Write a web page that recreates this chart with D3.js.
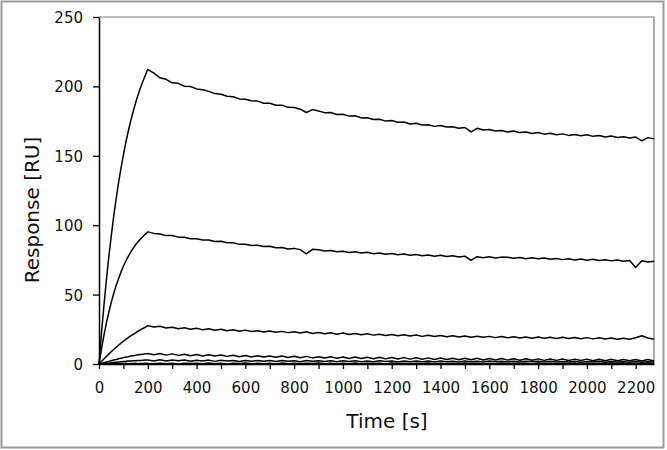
<!DOCTYPE html>
<html>
<head>
<meta charset="UTF-8">
<title>Response vs Time</title>
<script src="https://d3js.org/d3.v7.min.js"></script>
<style>
  body { margin: 0; background: #fff; }
  svg { display: block; font-family: "DejaVu Sans", sans-serif; }
</style>
</head>
<body>
<svg id="chart" width="667" height="450"></svg>
<script>
// time points [s]: association every 10 s, dissociation every 25 s
var time = [0,10,20,30,40,50,60,70,80,90,100,110,120,130,140,150,160,170,180,190,
  200,225,250,275,300,325,350,375,400,425,450,475,500,525,550,575,600,625,650,675,
  700,725,750,775,800,825,850,875,900,925,950,975,1000,1025,1050,1075,1100,1125,1150,1175,
  1200,1225,1250,1275,1300,1325,1350,1375,1400,1425,1450,1475,1500,1525,1550,1575,1600,1625,1650,1675,
  1700,1725,1750,1775,1800,1825,1850,1875,1900,1925,1950,1975,2000,2025,2050,2075,2100,2125,2150,2175,
  2200,2225,2250,2275];

// response [RU] for each concentration
var resp1 = [0,21.9,41.8,60.1,76.8,92.0,106.0,118.7,130.4,141.0,150.7,159.6,167.7,175.2,181.9,188.2,193.8,199.0,203.7,208.1,
  212.3,209.6,206.2,205.1,202.6,202.2,200.1,199.9,198.2,197.6,196.4,194.8,194.3,192.9,192.6,191.0,190.8,189.6,189.4,187.9,
  187.8,186.4,186.5,184.9,184.8,183.6,181.2,183.3,182.3,181.1,181.2,179.8,179.9,178.6,178.8,177.3,177.4,176.1,176.3,175.0,
  175.4,174.2,174.3,172.9,173.4,172.2,172.4,171.2,171.8,170.7,171.0,169.8,170.4,167.2,169.8,168.6,168.9,167.8,168.3,167.2,
  167.8,166.7,167.2,166.1,166.8,165.6,166.2,165.1,165.8,164.7,165.3,164.4,165.1,164.0,164.6,163.6,164.3,163.2,163.8,162.9,
  163.5,160.8,163.1,162.2];
var resp2 = [0,10.8,20.5,29.3,37.1,44.2,50.6,56.4,61.5,66.2,70.4,74.2,77.6,80.6,83.4,85.9,88.1,90.1,91.9,93.6,
  95.2,94.1,93.6,92.5,92.6,91.4,91.3,90.2,90.3,89.4,89.3,88.2,88.4,87.3,87.4,86.2,86.3,85.4,85.6,84.6,
  84.8,83.7,84.0,82.9,83.3,82.4,79.4,82.6,82.3,81.4,81.8,80.8,81.3,80.4,80.9,80.0,80.5,79.5,80.0,79.1,
  79.6,78.7,79.2,78.4,78.9,78.0,78.6,77.7,78.3,77.4,78.0,77.1,77.7,74.6,77.3,76.5,77.2,76.3,77.0,76.9,
  76.2,76.8,75.9,76.5,75.8,76.3,75.4,76.0,75.2,75.8,74.9,75.6,74.8,75.4,74.5,75.1,74.3,74.9,74.0,74.6,
  69.5,74.4,73.5,74.0];
var resp3 = [0,1.8,3.6,5.4,7.1,8.8,10.4,12.0,13.5,15.0,16.4,17.7,19.0,20.2,21.4,22.5,23.6,24.6,25.6,26.5,
  27.6,26.6,27.2,25.9,26.5,25.4,26.1,25.0,25.8,24.6,25.4,24.3,25.1,24.0,24.7,23.6,24.4,23.4,24.0,23.1,
  23.8,22.8,23.5,22.6,23.3,22.3,23.2,22.0,22.7,21.8,22.5,21.5,22.3,21.3,22.0,21.1,21.8,20.8,21.5,20.6,
  21.3,20.4,21.0,20.2,20.9,19.9,20.7,19.8,20.5,19.6,20.4,19.5,20.2,19.3,20.0,19.2,19.9,19.0,19.8,18.9,
  19.6,18.8,19.5,18.6,19.4,18.5,19.3,18.4,19.2,18.3,19.1,18.2,19.0,18.1,18.9,18.0,18.7,17.9,18.6,17.8,
  18.9,20.3,18.7,17.9];
var resp4 = [0,0.4,0.9,1.4,1.9,2.4,2.9,3.3,3.8,4.2,4.6,5.0,5.3,5.7,6.0,6.3,6.6,6.9,7.1,7.3,
  7.6,6.7,7.5,6.4,7.3,6.2,7.0,6.0,6.8,5.8,6.6,5.7,6.5,5.5,6.3,5.3,6.1,5.1,6.0,5.0,
  5.8,4.8,5.7,4.7,5.6,4.5,5.5,4.4,5.3,4.3,5.2,4.2,5.1,4.0,5.0,3.9,4.9,3.8,4.8,3.7,
  4.7,3.6,4.6,3.5,4.5,3.4,4.4,3.3,4.3,3.2,4.2,3.1,4.2,3.0,4.1,2.9,4.0,2.9,3.9,2.8,
  3.8,2.7,3.8,2.7,3.7,2.6,3.6,2.6,3.6,2.5,3.5,2.5,3.5,2.4,3.4,2.4,3.4,2.3,3.3,2.3,
  3.3,2.2,3.2,2.2];
var resp5 = [0,0.1,0.2,0.4,0.6,0.8,1.0,1.2,1.4,1.6,1.8,1.9,2.1,2.2,2.3,2.4,2.5,2.6,2.7,2.8,
  2.9,2.2,3.0,2.1,2.8,2.3,2.9,2.0,2.7,2.2,2.8,1.9,2.7,2.1,2.6,1.8,2.6,2.0,2.5,1.9,
  2.6,1.8,2.5,2.0,2.4,1.7,2.5,1.9,2.4,1.8,2.3,1.6,2.4,1.8,2.3,1.7,2.2,1.6,2.3,1.8,
  2.2,1.5,2.2,1.7,2.1,1.6,2.2,1.5,2.1,1.7,2.0,1.5,2.1,1.6,2.0,1.4,2.1,1.6,1.9,1.5,
  2.0,1.4,1.9,1.6,2.0,1.4,1.9,1.5,1.8,1.4,1.9,1.3,1.8,1.5,1.9,1.3,1.8,1.4,1.7,1.3,
  1.8,1.2,1.7,1.4];
var resp6 = [0,0.2,0.1,0.3,0.2,0.4,0.2,0.3,0.1,0.4,0.3,0.5,0.2,0.4,0.3,0.5,0.2,0.4,0.3,0.5,
  0.4,0.1,0.6,0.2,0.5,0.0,0.6,0.3,0.5,0.1,0.7,0.2,0.5,0.0,0.6,0.3,0.7,0.1,0.5,0.2,
  0.6,0.0,0.7,0.2,0.5,0.1,0.6,0.3,0.7,0.1,0.5,0.0,0.6,0.2,0.7,0.1,0.5,0.3,0.6,0.0,
  0.7,0.2,0.5,0.1,0.6,0.3,0.7,0.0,0.5,0.2,0.6,0.1,0.7,0.3,0.5,0.0,0.6,0.2,0.7,0.1,
  0.5,0.3,0.6,0.0,0.7,0.2,0.5,0.1,0.6,0.3,0.7,0.0,0.5,0.2,0.6,0.1,0.7,0.3,0.5,0.0,
  0.6,0.2,0.5,0.1];
var seriesList = [resp1, resp2, resp3, resp4, resp5, resp6];

var xTicks = d3.range(0, 2201, 100);
var yTicks = [0, 50, 100, 150, 200, 250];
var xTitle = "Time [s]";
var yTitle = "Response [RU]";

var svg = d3.select("#chart");
var margin = {top: 17, right: 13, bottom: 86, left: 99};
var W = +svg.attr("width"), H = +svg.attr("height");

var x = d3.scaleLinear().domain([0, 2275]).range([margin.left, W - margin.right]);
var y = d3.scaleLinear().domain([0, 250]).range([H - margin.bottom, margin.top]);

// outer frame
svg.append("rect")
  .attr("x", 1.5).attr("y", 1.5)
  .attr("width", W - 5).attr("height", H - 4)
  .attr("fill", "none").attr("stroke", "#9a9a9a").attr("stroke-width", 2);

// plot frame top/right
svg.append("path")
  .attr("d", "M" + x(0) + "," + y(250) + "H" + x(2275) + "V" + y(0))
  .attr("fill", "none").attr("stroke", "#777").attr("stroke-width", 1.2);

var line = d3.line()
  .x(function(d, i){ return x(time[i]); })
  .y(function(d){ return y(d); });

svg.append("g")
  .selectAll("path")
  .data(seriesList)
  .enter().append("path")
    .attr("d", line)
    .attr("fill", "none")
    .attr("stroke", "#000")
    .attr("stroke-width", 1.5)
    .attr("stroke-linejoin", "round");

var xAxis = svg.append("g")
  .attr("transform", "translate(0," + y(0) + ")")
  .call(d3.axisBottom(x).tickValues(xTicks).tickSize(5).tickSizeOuter(0)
    .tickFormat(function(d){ return d % 200 === 0 ? d : ""; }));

var yAxis = svg.append("g")
  .attr("transform", "translate(" + x(0) + ",0)")
  .call(d3.axisLeft(y).tickValues(yTicks).tickSize(6).tickSizeOuter(0));

[xAxis, yAxis].forEach(function(a){
  a.select(".domain").attr("stroke", "#000").attr("stroke-width", 1.5);
  a.selectAll(".tick line").attr("stroke", "#000").attr("stroke-width", 1.3);
  a.selectAll(".tick text").attr("fill", "#111").style("font-size", "15px")
    .style("font-family", "'DejaVu Sans', sans-serif");
});
xAxis.selectAll(".tick text").attr("dy", "0").attr("y", 29);
yAxis.selectAll(".tick text").attr("x", -16).attr("dy", "0.36em");

svg.append("text")
  .attr("x", 387).attr("y", 428)
  .attr("text-anchor", "middle")
  .style("font-size", "20px").attr("fill", "#111")
  .text(xTitle);

svg.append("text")
  .attr("transform", "translate(39,210) rotate(-90)")
  .attr("text-anchor", "middle")
  .style("font-size", "20px").attr("fill", "#111")
  .text(yTitle);
</script>
</body>
</html>
